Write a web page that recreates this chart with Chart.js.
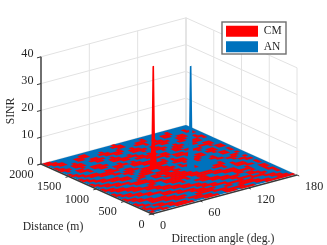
<!DOCTYPE html>
<html>
<head>
<meta charset="utf-8">
<style>
html, body { margin: 0; padding: 0; background: #fff; }
canvas { display: block; filter: blur(0.4px); }
</style>
<script src="https://cdn.jsdelivr.net/npm/chart.js@4"></script>
</head>
<body>
<canvas id="surfaceChart" width="327" height="245"></canvas>
<script>
const seriesNames = ["CM", "AN"];
const angleTicks = [0, 60, 120, 180];
const distanceTicks = [0, 500, 1000, 1500, 2000];
const sinrTicks = [0, 10, 20, 30, 40];

// the two peaks, as angle / SINR profile across the spike
const cmPeakDistance = 1095;
const cmPeakAngles = [72, 74.8, 76, 78, 79.2, 82];
const cmPeakSinr = [0, 10, 38.8, 38.8, 10, 0];
const anPeakDistance = 842;
const anPeakAngles = [101, 103.8, 105, 107, 108.2, 111];
const anPeakSinr = [0, 10, 38.8, 38.8, 10, 0];

// which series lies on top near SINR 0, row 0 = 2000 m, column 0 = 0 deg
const floorTop = [
  "CCAAAAAAAAAAAAAAAAACAAAAAAAAAAAAAAAAAAAA",
  "CCCAAAAAACCAAAAAAACCCAAAAACAAAAAACAAAAAA",
  "ACCCAAACCCCAAACAAAACCAAACCCAAAACCCAAACAA",
  "AACCAAACCAAAACCCAACAAAACCCAACAACCAAAACCA",
  "CAAAACAAAACCAACCCCCAACAAACAACCAAAACCAACA",
  "CCAACCCAACCCCAAACCAACCCAAAACCCCAACCCAAAA",
  "CCCACCCAAACCAACAAAAACCCCACAACCAAACCAACAA",
  "ACAAACAAAAAAACCCAACAAACAACCAAAAACCAAACCA",
  "AAACCAACCCAAACCCCCCCAAAAACCCAACAAAACCACA",
  "CAACCCACCCCAAAACCAACCACAAACAACCCAACCCAAA",
  "CCAAACAACCAAACAAAACCCCCCAAAACCCAACCAAAAA",
  "ACCAAAAAAAACCCCACAAACCAACCAACCAAAAAACCAA",
  "AACCCCAACCACCAACCCAAAACCCCAAAACCAACCCCAA",
  "CAACCCCCCCCAAAACCCCCAAAACACCCAACCCAACAAA",
  "CCAAACCCCAAACCAAACCCAACAAACCCCAACAAAACCA",
  "ACCAAAAACCACCCCAAAAACCCACAAACAAAAACCACCA",
  "AACCCAAAAACCCAACCCACCCAACCCAAACCACCCAAAA",
  "CAACCCCCAAACAACCCCCCAAACCCCAACCCAACAAACA",
  "CCAAACCCCCAAACCCAACCCAAAACAACCAAAAACCACA",
  "ACCCAAACCCAACCCCAACCCCACAAAACAAACAACCAAA",
  "AACCCCAAAAACCAAACCCCCAACCAAAAAACCAAAAACA",
  "CAAACCCCAACAAACCCCCACCAACCAAAAAACCAACCAA",
  "CCCAAAACCCCCAACCACCCCAAAACAAAAAAAACCCAAA",
  "ACCCCAAACCCCCAAACCCCCCAAAAAAAAACAAACAACA",
  "AACCCCCAAAACCCCAACCCCCCAAAAAACCCAAAACCAA",
  "CAAACCCCAACCAACCCCCCCCCCAAAACCCAACAAACCA",
  "CCAAACCCCCCAAACCCCCCACCCCCCAAACAACCCAAAA",
  "ACCCAAAACCCCAAACCCACAACCCCCCCAAAACCCAACA",
  "AACCCCAAAACCCCAAACAAAACCAACCCCCCAAACCACA",
  "CAAACCCCAAACCCCCAAAACCCCAAAACCCCAACAAAAA",
  "CCCAAACCCCAAACCCCCAAACCCCCAAAACCCCCAACCA",
  "ACCCAAAAACCCAAACCCCCAAACCCCCAACCAACAACCA",
  "AACCCCAAACCCCCAAAACCCAAAACCCCCAACCAAACAA",
  "CAAACCCCCAAACCCCCAACCCCAAAACCAAACCCAACCA",
  "CCAACCCCCCCAAAACCCCAACCCCAAACCCCAACCAACA",
  "ACCAAAACCCCCCAAACCCCCAAACCCCCAACCCCAAACA",
  "CAACCCAAACCCAAACCCCCAAACCAACCCCAAACCCAAA",
  "CCAACCCCAAAACCCCAAACCCCAAACCCCCCAAACCCAA",
  "ACCCAACCCCCAACCCCCAAACCCCCCAAACCCCAACCCA",
  "CAACCAACCCCCAAACCCCAACCCACCCCAAACCCCCCCC"
];

const RED = "#ff0000";
const BLUE = "#0072bd";
const GRID = "#e2e2e2";
const AXIS = "#3a3a3a";
const TEXT = "#262626";
const FONT = "'Liberation Serif', serif";

// view of the box, in canvas units
function project(angle, dist, sinr) {
    return {
        x: 152 + angle / 180 * 145 - dist / 2000 * 111,
        y: 214 - angle / 180 * 39 - dist / 2000 * 50 - sinr * 2.68
    };
}

const painted = [];

function addLine(points, color, width) {
    painted.push({
        data: points, showLine: true, fill: false, borderColor: color,
        borderWidth: width, pointRadius: 0, tension: 0, clip: false
    });
}

function addShape(points, color, label, border) {
    painted.push({
        label: label, data: points, showLine: true, fill: "shape",
        backgroundColor: color, borderColor: color, borderWidth: border || 0,
        pointRadius: 0, tension: 0, clip: false
    });
}

// walls
for (const z of sinrTicks) {
    addLine([project(0, 2000, z), project(180, 2000, z), project(180, 0, z)], GRID, 1);
}
for (const a of angleTicks) {
    addLine([project(a, 2000, 0), project(a, 2000, 40)], GRID, a === 180 ? 1.6 : 1);
}
for (const d of distanceTicks) {
    addLine([project(180, d, 0), project(180, d, 40)], GRID, 1);
}

// floor: blue sheet with the red runs on top
const floorA0 = 1.5, floorD0 = 30;
function cellA(c, cols) { return floorA0 + (180 - floorA0) * c / cols; }
function cellD(r, rows) { return 2000 - (2000 - floorD0) * r / rows; }

addShape([
    project(floorA0, 2000, 0), project(180, 2000, 0),
    project(180, floorD0, 0), project(floorA0, floorD0, 0)
], BLUE);

floorTop.forEach((row, r) => {
    const rows = floorTop.length, cols = row.length;
    let c = 0;
    while (c < cols) {
        if (row[c] !== "C") { c++; continue; }
        let end = c;
        while (end < cols && row[end] === "C") end++;
        addShape([
            project(cellA(c, cols), cellD(r, rows), 0),
            project(cellA(end, cols), cellD(r, rows), 0),
            project(cellA(end, cols), cellD(r + 1, rows), 0),
            project(cellA(c, cols), cellD(r + 1, rows), 0)
        ], RED, undefined, 0.2);
        c = end;
    }
});

// peaks
addShape(anPeakAngles.map((a, i) => project(a, anPeakDistance, anPeakSinr[i])), BLUE, seriesNames[1]);
addShape(cmPeakAngles.map((a, i) => project(a, cmPeakDistance, cmPeakSinr[i])), RED, seriesNames[0]);

// axes
addLine([project(0, 2000, 0), project(0, 2000, 40)], AXIS, 1.4);
addLine([project(0, 2000, 0), project(0, 0, 0), project(180, 0, 0)], AXIS, 1.4);
for (const z of sinrTicks) {
    addLine([project(-5, 2000, z), project(0, 2000, z)], AXIS, 1);
}
for (const d of distanceTicks) {
    addLine([project(-4, d, 0), project(0, d, 0)], AXIS, 1);
}
for (const a of angleTicks) {
    addLine([project(a, -40, 0), project(a, 0, 0)], AXIS, 1);
}

const boxLabels = {
    id: "boxLabels",
    afterLayout(chart) {
        const lg = chart.legend;
        const dx = 222 - lg.left, dy = 21.5 - lg.top;
        lg.left += dx; lg.right += dx; lg.top += dy; lg.bottom += dy;
        lg.legendHitBoxes.forEach(h => { h.left += dx; h.top += dy; });
    },
    afterDatasetsDraw(chart) {
        const ctx = chart.ctx, sx = chart.scales.x, sy = chart.scales.y;
        const put = (text, p, dx, dy, align) => {
            ctx.textAlign = align;
            ctx.fillText(text, sx.getPixelForValue(p.x) + dx, sy.getPixelForValue(p.y) + dy);
        };
        ctx.save();
        // legend frame goes over the wall grid, so the legend is drawn again on it
        ctx.fillStyle = "#fff";
        ctx.strokeStyle = "#6e6e6e";
        ctx.lineWidth = 1.4;
        ctx.fillRect(222, 22, 64, 32);
        ctx.strokeRect(222, 22, 64, 32);
        ctx.restore();
        chart.legend.draw();

        ctx.save();
        ctx.fillStyle = TEXT;
        ctx.font = "12.2px " + FONT;
        ctx.textBaseline = "middle";
        for (const z of sinrTicks) {
            put(String(z), project(0, 2000, z), -7.5, -2.5, "right");
        }
        for (const d of distanceTicks) {
            put(String(d), project(0, d, 0), -7.5, 10.5, "right");
        }
        for (const a of angleTicks) {
            put(String(a), project(a, 0, 0), 8, 11.5, "left");
        }
        ctx.font = "11.7px " + FONT;
        ctx.textAlign = "center";
        ctx.fillText("Distance (m)", 53, 227);
        ctx.fillText("Direction angle (deg.)", 223, 239);
        ctx.translate(11, 111);
        ctx.rotate(-Math.PI / 2);
        ctx.fillText("SINR", 0, 0);
        ctx.restore();
    }
};

new Chart(document.getElementById("surfaceChart").getContext("2d"), {
    type: "scatter",
    // chart.js paints the first dataset last
    data: { datasets: painted.slice().reverse() },
    options: {
        responsive: false,
        animation: false,
        layout: { padding: 0 },
        scales: {
            x: { type: "linear", min: 0, max: 327, display: false },
            y: { type: "linear", min: 0, max: 245, reverse: true, display: false }
        },
        plugins: {
            tooltip: { enabled: false },
            legend: {
                position: "chartArea",
                align: "start",
                labels: {
                    boxWidth: 32,
                    boxHeight: 11,
                    padding: 4,
                    color: TEXT,
                    font: { family: FONT, size: 11.5 },
                    filter: item => !!item.text
                }
            }
        }
    },
    plugins: [boxLabels]
});
</script>
</body>
</html>
